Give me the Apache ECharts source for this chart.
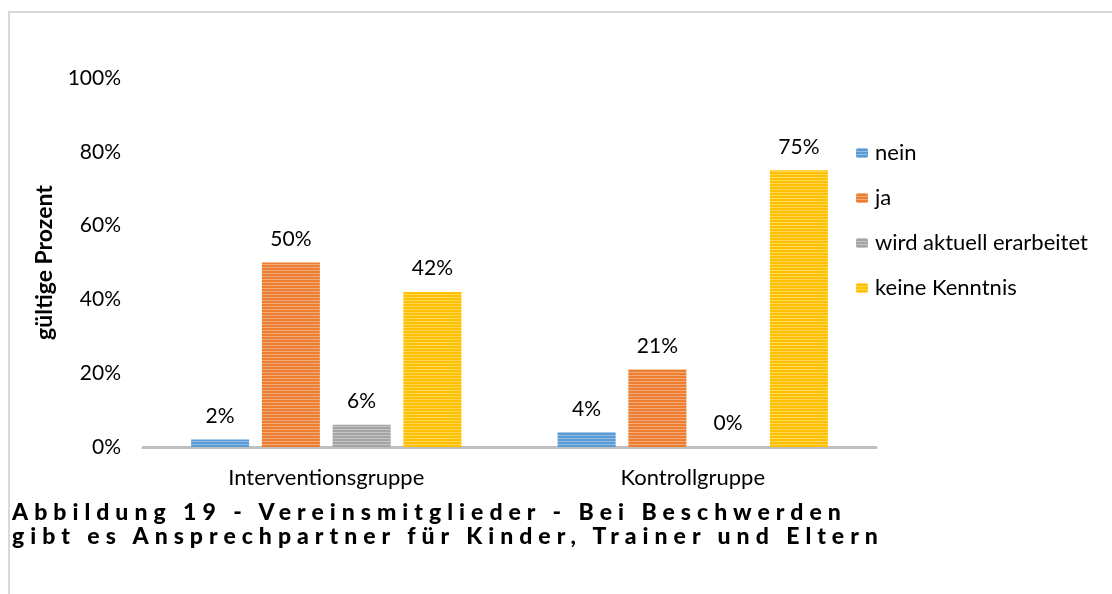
<!DOCTYPE html>
<html>
<head>
<meta charset="utf-8">
<script src="https://cdn.jsdelivr.net/npm/echarts@6/dist/echarts.min.js"></script>
<style>
  html, body { margin: 0; padding: 0; background: #fff; }
  #wrap { position: relative; width: 1112px; height: 594px; overflow: hidden; }
  #chart { position: absolute; left: 0; top: 0; width: 1112px; height: 594px; }
  #caption {
    position: absolute; left: 12px; top: 499px;
    font-family: Lato, "Open Sans", sans-serif; font-weight: 900; font-size: 23px;
    line-height: 24px; letter-spacing: 6px; color: #000; white-space: nowrap;
  }
</style>
</head>
<body>
<div id="wrap">
  <div id="chart"></div>
  <div id="caption">Abbildung 19 - Vereinsmitglieder - Bei Beschwerden<br>gibt es Ansprechpartner für Kinder, Trainer und Eltern</div>
</div>
<script>
var gruppen = ['Interventionsgruppe', 'Kontrollgruppe'];
var nein = [2, 4];
var ja = [50, 21];
var wirdErarbeitet = [6, 0];
var keineKenntnis = [42, 75];
var yTicks = [0, 20, 40, 60, 80, 100];

var schrift = 'Lato, "Open Sans", sans-serif';

// Streifen wie im Original
var streifen = {
  symbol: 'rect',
  symbolSize: 1,
  dashArrayX: [1, 0],
  dashArrayY: [1, 2],
  color: 'rgba(255,255,255,0.35)'
};

var reihe = function(name, data, farbe) {
  return {
    name: name,
    type: 'bar',
    data: data,
    barWidth: 58,
    barGap: '22%',
    itemStyle: { color: farbe, decal: streifen },
    label: {
      show: true,
      position: 'top',
      distance: 13,
      formatter: '{c}%',
      fontFamily: schrift,
      fontSize: 21,
      color: '#000'
    }
  };
};

var myChart = echarts.init(document.getElementById('chart'));
var option = {
  animation: false,
  textStyle: { fontFamily: schrift },
  graphic: [{
    type: 'rect',
    shape: { x: 9, y: 12, width: 1300, height: 800 },
    style: { fill: null, stroke: '#d9d9d9', lineWidth: 2 },
    silent: true
  }],
  grid: { left: 143, right: 236, top: 78, bottom: 147 },
  legend: {
    orient: 'vertical',
    left: 851,
    top: 137,
    itemWidth: 12,
    itemHeight: 10,
    itemGap: 23,
    textStyle: { fontFamily: schrift, fontSize: 22, color: '#000', padding: [0, 0, 0, 2] },
    data: ['nein', 'ja', 'wird aktuell erarbeitet', 'keine Kenntnis']
  },
  xAxis: {
    type: 'category',
    data: gruppen,
    axisLine: { lineStyle: { color: '#bfbfbf', width: 3 } },
    axisTick: { show: false },
    axisLabel: { margin: 20, fontFamily: schrift, fontSize: 22, color: '#000' }
  },
  yAxis: {
    type: 'value',
    min: yTicks[0],
    max: yTicks[yTicks.length - 1],
    interval: 20,
    name: 'gültige Prozent',
    nameLocation: 'middle',
    nameGap: 87,
    nameTextStyle: { fontFamily: schrift, fontSize: 23, fontWeight: 'bold', color: '#000' },
    axisLine: { show: false },
    axisTick: { show: false },
    splitLine: { show: false },
    axisLabel: { margin: 22, fontFamily: schrift, fontSize: 21, color: '#000', formatter: '{value}%' }
  },
  series: [
    reihe('nein', nein, '#5b9bd5'),
    reihe('ja', ja, '#ed7d31'),
    reihe('wird aktuell erarbeitet', wirdErarbeitet, '#a5a5a5'),
    reihe('keine Kenntnis', keineKenntnis, '#ffc000')
  ]
};
myChart.setOption(option);
</script>
</body>
</html>
